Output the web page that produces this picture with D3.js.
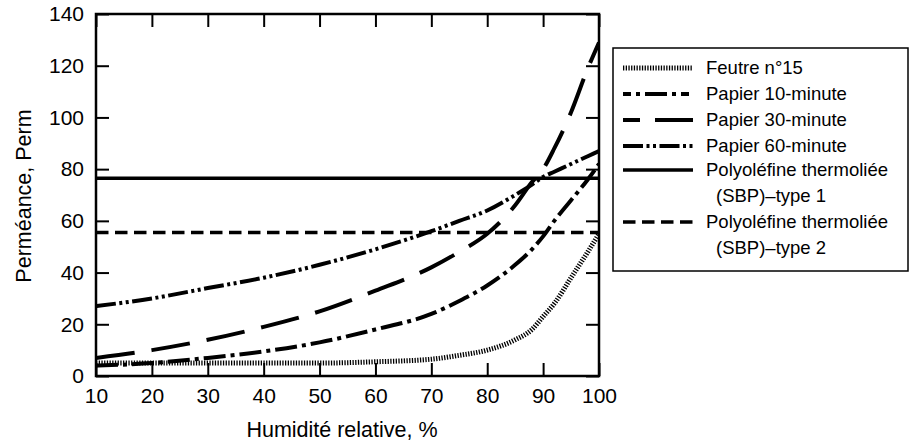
<!DOCTYPE html>
<html>
<head>
<meta charset="utf-8">
<script src="https://cdn.jsdelivr.net/npm/d3@7"></script>
<style>
  body { margin: 0; background: #fff; }
  svg { font-family: "Liberation Sans", Arial, sans-serif; }
</style>
</head>
<body>
<svg id="chart" width="912" height="443"></svg>
<script>
// humidity values (x)
var humidity = [10, 20, 30, 40, 50, 60, 70, 75, 80, 85, 88, 90, 92, 95, 98, 100];

// perméance series (Perm)
var feutre15 = [5, 5, 5, 5, 5, 5.5, 6.5, 8, 10, 14, 18, 23, 28, 38, 48, 55];
var papier10 = [4, 5, 7, 9.5, 13, 18, 24, 29, 35, 43, 49, 54, 60, 68, 76, 82];
var papier30 = [7, 10, 14, 19, 25, 33, 42, 48, 55, 66, 75, 80, 88, 102, 119, 129];
var papier60 = [27, 30, 34, 38, 43, 49, 56, 60, 64, 70, 74, 77, 79, 82, 85, 87];
var sbpType1 = 76.5;
var sbpType2 = 55.5;

var xTicks = [10, 20, 30, 40, 50, 60, 70, 80, 90, 100];
var yTicks = [0, 20, 40, 60, 80, 100, 120, 140];

var legendLabels = [
    ["Feutre n°15"],
    ["Papier 10-minute"],
    ["Papier 30-minute"],
    ["Papier 60-minute"],
    ["Polyoléfine thermoliée", "(SBP)\u2013type 1"],
    ["Polyoléfine thermoliée", "(SBP)\u2013type 2"]
];

var margin = {top: 14, left: 96, right: 313, bottom: 67};
var W = 912, H = 443;
var w = W - margin.left - margin.right,
    h = H - margin.top - margin.bottom;

var svg = d3.select("#chart");
var g = svg.append("g").attr("transform", "translate(" + margin.left + "," + margin.top + ")");

var x = d3.scaleLinear().domain([10, 100]).range([0, w]);
var y = d3.scaleLinear().domain([0, 140]).range([h, 0]);

// styles for each series
var styles = [
    {dash: "1.3,1.4", width: 5},
    {dash: "22,5,4,5", width: 4},
    {dash: "39,17", width: 4},
    {dash: "20,3.5,3,3.5,3,3.5", width: 4},
    {dash: null, width: 3.5},
    {dash: "12.5,6.5", width: 3.5}
];
// legend swatches start mid-pattern in the original
var legendDash = [null, "8,5,4,5,22,5,4,5", "17,15,38", null, null, null];

g.append("clipPath").attr("id", "clip")
    .append("rect").attr("width", w).attr("height", h);

var line = d3.line()
    .x(function(d) { return x(d[0]); })
    .y(function(d) { return y(d[1]); })
    .curve(d3.curveMonotoneX);

var series = [feutre15, papier10, papier30, papier60,
    humidity.map(function() { return sbpType1; }),
    humidity.map(function() { return sbpType2; })];

var lines = g.append("g").attr("clip-path", "url(#clip)");
series.forEach(function(vals, i) {
    var pts = humidity.map(function(hh, j) { return [hh, vals[j]]; });
    lines.append("path")
        .attr("d", line(pts))
        .attr("fill", "none")
        .attr("stroke", "#000")
        .attr("stroke-width", styles[i].width)
        .attr("stroke-dasharray", styles[i].dash);
});

// axes with inward ticks on all four sides
var tick = 13;
g.append("g").attr("transform", "translate(0," + h + ")")
    .call(d3.axisBottom(x).tickValues(xTicks).tickSizeInner(-tick).tickSizeOuter(0).tickPadding(12));
g.append("g")
    .call(d3.axisTop(x).tickValues(xTicks).tickSizeInner(-tick).tickSizeOuter(0).tickFormat(""));
g.append("g")
    .call(d3.axisLeft(y).tickValues(yTicks).tickSizeInner(-tick).tickSizeOuter(0).tickPadding(12));
g.append("g").attr("transform", "translate(" + w + ",0)")
    .call(d3.axisRight(y).tickValues(yTicks).tickSizeInner(-tick).tickSizeOuter(0).tickFormat(""));

g.selectAll(".tick line").attr("stroke", "#000").attr("stroke-width", 2);
g.selectAll(".domain").remove();
g.selectAll(".tick text").attr("font-size", 21).attr("fill", "#000")
    .attr("font-family", "Liberation Sans, Arial, sans-serif");

g.append("rect").attr("width", w).attr("height", h)
    .attr("fill", "none").attr("stroke", "#000").attr("stroke-width", 2.5);

// axis titles
svg.append("text")
    .attr("x", 342).attr("y", 437)
    .attr("text-anchor", "middle").attr("font-size", 21.5)
    .text("Humidité relative, %");
svg.append("text")
    .attr("transform", "translate(31,196) rotate(-90)")
    .attr("text-anchor", "middle").attr("font-size", 21.5)
    .text("Perméance, Perm");

// legend
var leg = svg.append("g");
leg.append("rect").attr("x", 613).attr("y", 48).attr("width", 295).attr("height", 223)
    .attr("fill", "#fff").attr("stroke", "#000").attr("stroke-width", 1.5);
var rowY = [68, 94, 120, 146, 170, 222];
legendLabels.forEach(function(lbl, i) {
    leg.append("line")
        .attr("x1", 623).attr("x2", 693)
        .attr("y1", rowY[i]).attr("y2", rowY[i])
        .attr("stroke", "#000")
        .attr("stroke-width", styles[i].width)
        .attr("stroke-dasharray", legendDash[i] || styles[i].dash);
    lbl.forEach(function(t, k) {
        leg.append("text")
            .attr("x", k === 0 ? 706 : 716)
            .attr("y", rowY[i] + 26 * k)
            .attr("dy", "0.35em")
            .attr("font-size", 18.5)
            .text(t);
    });
});
</script>
</body>
</html>
